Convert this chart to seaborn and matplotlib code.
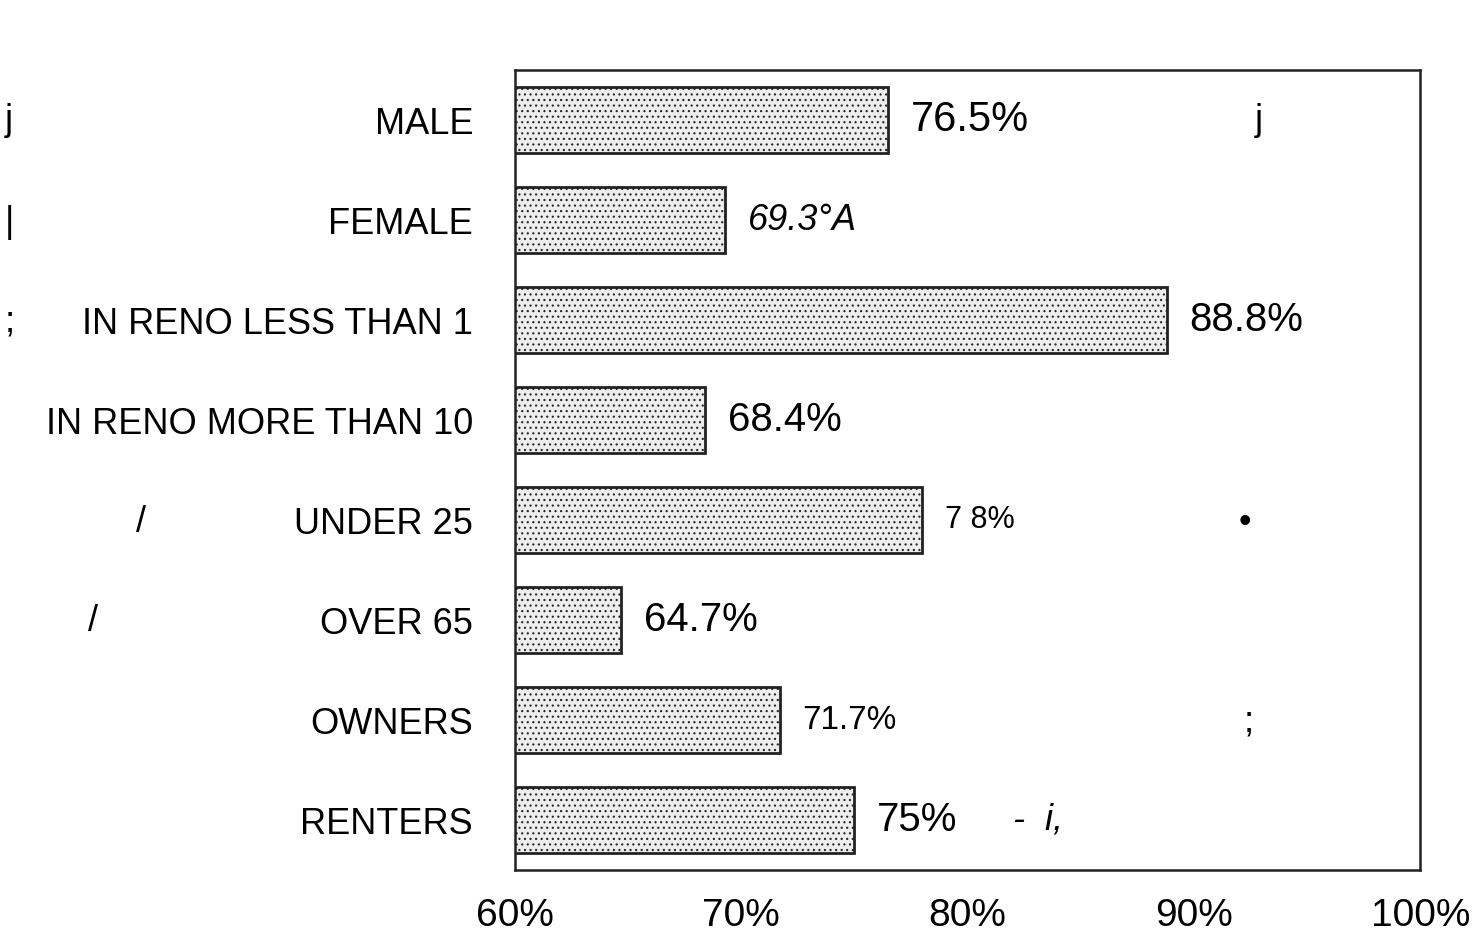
import numpy as np
import matplotlib
matplotlib.use('Agg')
import matplotlib.pyplot as plt
import seaborn as sns
import pandas as pd

# Data
categories = ['MALE', 'FEMALE', 'IN RENO LESS THAN 1', 'IN RENO MORE THAN 10',
              'UNDER 25', 'OVER 65', 'OWNERS', 'RENTERS']
values = [76.5, 69.3, 88.8, 68.4, 78.0, 64.7, 71.7, 75.0]
value_labels = ['76.5%', '69.3°A', '88.8%', '68.4%', '7 8%', '64.7%', '71.7%', '75%']
x_ticks = [60, 70, 80, 90, 100]
x_tick_labels = ['60%', '70%', '80%', '90%', '100%']

df = pd.DataFrame({'group': categories, 'pct': values})

sns.set_style('white')
plt.rcParams['font.family'] = ['Liberation Sans', 'DejaVu Sans']
plt.rcParams['text.color'] = 'black'
plt.rcParams['hatch.color'] = '#a0a0a0'
plt.rcParams['hatch.linewidth'] = 0.8

fig = plt.figure(figsize=(14.75, 9.38), dpi=100)
ax = fig.add_axes([0.349, 0.0725, 0.614, 0.8525])

sns.barplot(data=df, x='pct', y='group', orient='h', ax=ax, width=0.66,
            color='#ededed', edgecolor='#222222', linewidth=2, saturation=1)
for p in ax.patches:
    p.set_hatch('...')

ax.set_xlim(60, 100)
ax.set_ylim(len(categories) - 0.5, -0.5)
ax.set_xlabel('')
ax.set_ylabel('')

for s in ax.spines.values():
    s.set_color('#222222')
    s.set_linewidth(1.8)

ax.set_xticks(x_ticks)
ax.set_xticklabels(x_tick_labels, fontsize=28)
ax.tick_params(axis='x', direction='in', length=14, width=1.5, pad=20,
               color='#222222', labelcolor='black')
ax.tick_params(axis='y', direction='in', length=8, width=1.5, pad=30, labelsize=26,
               color='#222222', labelcolor='black')

# value labels
styles = [dict(size=30), dict(size=26, style='italic'), dict(size=29), dict(size=29),
          dict(size=22), dict(size=29), dict(size=24), dict(size=29)]
for i, (v, t) in enumerate(zip(values, value_labels)):
    ax.text(v + 1.0, i, t, va='center', ha='left', **styles[i])

# stray marks in the scan
ax.text(82.0, 7, '-  i,', va='center', ha='left', size=26, style='italic')
fig.text(0.003, 0.872, 'j', fontsize=26, va='center')
fig.text(0.851, 0.872, 'j', fontsize=26, va='center')
fig.text(0.003, 0.763, '|', fontsize=26, va='center')
fig.text(0.003, 0.657, ';', fontsize=26, va='center')
fig.text(0.092, 0.443, '/', fontsize=26, va='center')
fig.text(0.840, 0.443, '•', fontsize=26, va='center')
fig.text(0.060, 0.337, '/', fontsize=26, va='center')
fig.text(0.843, 0.230, ';', fontsize=26, va='center')

fig.savefig('out.png', dpi=100)
